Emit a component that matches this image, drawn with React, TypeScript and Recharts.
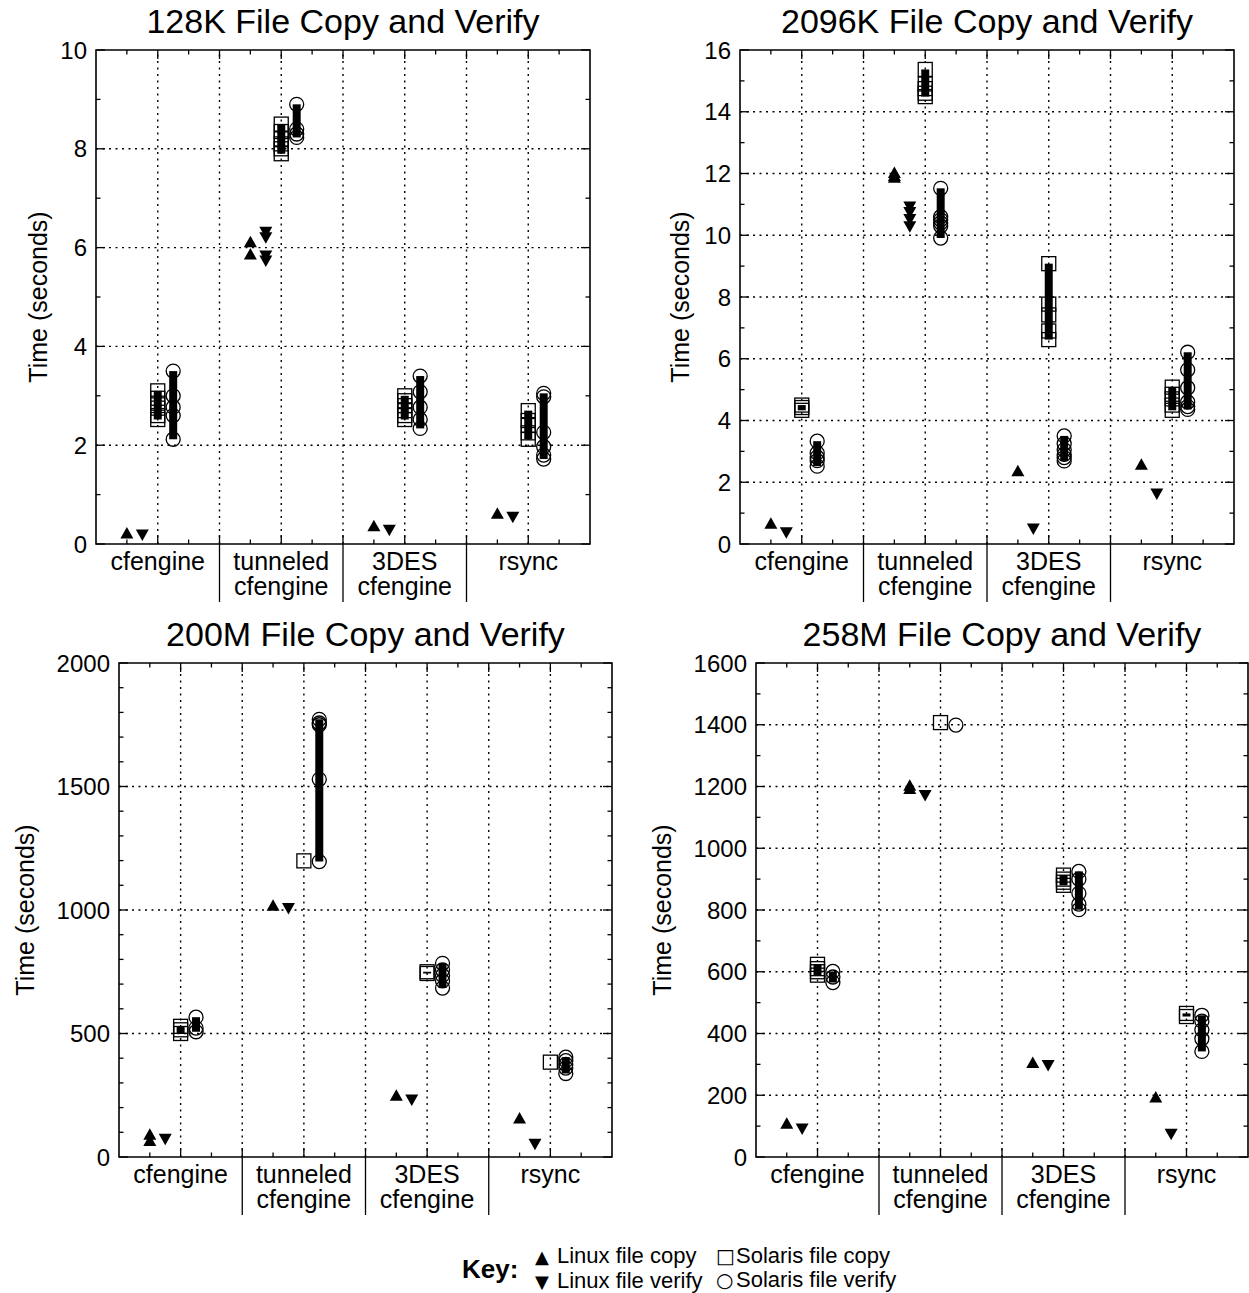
import { ComposedChart, Scatter, XAxis, YAxis, ReferenceLine, ReferenceArea } from "recharts";

const categories = ["cfengine", "tunneled\ncfengine", "3DES\ncfengine", "rsync"];

// every inner list holds the repeated runs of one category (seconds)
const k128LinuxCopy = [[0.2], [6.1, 5.85], [0.35], [0.6]];
const k128LinuxVerify = [[0.2], [6.33, 6.22, 5.85, 5.75], [0.3], [0.56]];
const k128SolarisCopy = [[3.1, 2.95, 2.85, 2.75, 2.6, 2.52], [8.5, 8.35, 8.2, 8.1, 8.0, 7.9], [3.0, 2.9, 2.8, 2.7, 2.6, 2.52], [2.7, 2.5, 2.4, 2.25, 2.12]];
const k128SolarisVerify = [[3.5, 3.0, 2.77, 2.6, 2.12], [8.9, 8.4, 8.3, 8.23], [3.4, 3.08, 2.77, 2.52, 2.34], [3.05, 2.98, 2.26, 1.97, 1.8, 1.72]];

const k2096LinuxCopy = [[0.64], [12.0, 11.9, 11.85], [2.34], [2.55]];
const k2096LinuxVerify = [[0.4], [10.95, 10.77, 10.54, 10.31], [0.52], [1.65]];
const k2096SolarisCopy = [[4.5, 4.42, 4.33], [15.37, 14.9, 14.75, 14.6, 14.49], [9.08, 7.77, 7.42, 6.9, 6.62], [5.08, 4.85, 4.7, 4.5, 4.33]];
const k2096SolarisVerify = [[3.33, 2.95, 2.81, 2.7, 2.52], [11.52, 10.6, 10.5, 10.4, 10.3, 9.91], [3.5, 3.25, 3.05, 2.9, 2.8, 2.69], [6.21, 5.64, 5.06, 4.6, 4.45, 4.36]];

const m200LinuxCopy = [[88, 63], [1015], [246], [154]];
const m200LinuxVerify = [[76], [1010], [235], [56]];
const m200SolarisCopy = [[529, 515, 500], [1199], [750, 743], [384]];
const m200SolarisVerify = [[566, 522, 507], [1772, 1757, 1750, 1529, 1196], [784, 757, 735, 713, 684], [404, 390, 375, 360, 338]];

const m258LinuxCopy = [[106], [1201, 1190], [303], [191]];
const m258LinuxVerify = [[94], [1174], [300], [77]];
const m258SolarisCopy = [[624, 610, 600, 589], [1407], [913, 900, 890, 880], [465, 455]];
const m258SolarisVerify = [[601, 583, 565], [1399], [925, 900, 854, 819, 801], [459, 440, 412, 383, 342]];

const FONT = '"Liberation Sans", Arial, Helvetica, sans-serif';

// x slot of each series inside a category (category i spans 4i..4i+4)
const slots = [1, 1.5, 2, 2.5];

const triUp = (p: any) => (
  <path d={`M${p.cx},${p.cy - 7}L${p.cx + 6.5},${p.cy + 4.5}L${p.cx - 6.5},${p.cy + 4.5}Z`} fill="#000" />
);
const triDown = (p: any) => (
  <path d={`M${p.cx},${p.cy + 7}L${p.cx + 6.5},${p.cy - 4.5}L${p.cx - 6.5},${p.cy - 4.5}Z`} fill="#000" />
);
const square = (p: any) => (
  <rect x={p.cx - 7} y={p.cy - 7} width={14} height={14} fill="none" stroke="#000" strokeWidth={1.3} />
);
const circle = (p: any) => <circle cx={p.cx} cy={p.cy} r={7} fill="none" stroke="#000" strokeWidth={1.3} />;
const shapes = [triUp, triDown, square, circle];

const panels = [
  { title: "128K File Copy and Verify", left: 96, top: 50, right: 590, bottom: 544, max: 10, minor: 1, major: 2, yLabelX: 38,
    series: [k128LinuxCopy, k128LinuxVerify, k128SolarisCopy, k128SolarisVerify] },
  { title: "2096K File Copy and Verify", left: 740, top: 50, right: 1234, bottom: 544, max: 16, minor: 1, major: 2, yLabelX: 680,
    series: [k2096LinuxCopy, k2096LinuxVerify, k2096SolarisCopy, k2096SolarisVerify] },
  { title: "200M File Copy and Verify", left: 119, top: 663, right: 612, bottom: 1157, max: 2000, minor: 100, major: 500, yLabelX: 25,
    series: [m200LinuxCopy, m200LinuxVerify, m200SolarisCopy, m200SolarisVerify] },
  { title: "258M File Copy and Verify", left: 756, top: 663, right: 1248, bottom: 1157, max: 1600, minor: 100, major: 200, yLabelX: 662,
    series: [m258LinuxCopy, m258LinuxVerify, m258SolarisCopy, m258SolarisVerify] },
];

function XTick({ x, y, payload, plotH }: any) {
  const v = payload.value;
  const len = v % 2 === 0 ? 9 : 4.5;
  return (
    <g stroke="#000" strokeWidth={1.3}>
      <line x1={x} y1={y} x2={x} y2={y - len} />
      <line x1={x} y1={y - plotH} x2={x} y2={y - plotH + len} />
      {v % 4 === 0 && <line x1={x} y1={y} x2={x} y2={y + 58} />}
      {v % 4 === 2 && (
        <text x={x} y={y + 26} textAnchor="middle" fontSize={25} fontFamily={FONT} fill="#000" stroke="none">
          {categories[(v - 2) / 4].split("\n").map((t, i) => (
            <tspan key={i} x={x} dy={i === 0 ? 0 : 25}>
              {t}
            </tspan>
          ))}
        </text>
      )}
    </g>
  );
}

function YTick({ x, y, payload, plotW, major }: any) {
  const v = payload.value;
  const isMajor = v % major === 0;
  const ax = x + 9;
  const len = isMajor ? 9 : 4.5;
  return (
    <g stroke="#000" strokeWidth={1.3}>
      <line x1={ax} y1={y} x2={ax + len} y2={y} />
      <line x1={ax + plotW} y1={y} x2={ax + plotW - len} y2={y} />
      {isMajor && (
        <text x={x} y={y} dy="0.36em" textAnchor="end" fontSize={24} fontFamily={FONT} fill="#000" stroke="none">
          {v}
        </text>
      )}
    </g>
  );
}

function Panel({ cfg }: any) {
  const svgLeft = Math.max(0, cfg.left - 110);
  const yw = cfg.left - svgLeft;
  const mTop = 12;
  const xh = 64;
  const plotW = cfg.right - cfg.left;
  const plotH = cfg.bottom - cfg.top;
  const width = yw + plotW + 3;
  const height = mTop + plotH + xh;

  const yTicks: number[] = [];
  for (let v = 0; v <= cfg.max; v += cfg.minor) yTicks.push(v);
  const yGrid = yTicks.filter((v) => v % cfg.major === 0 && v > 0 && v < cfg.max);
  const xTicks = [1, 2, 3, 4, 5, 6, 7, 8, 9, 10, 11, 12, 13, 14, 15];
  const xGrid = xTicks.filter((v) => v % 2 === 0);

  return (
    <>
      <div
        style={{
          position: "absolute",
          left: cfg.left - 20,
          width: plotW + 40,
          top: cfg.top - 46,
          textAlign: "center",
          fontSize: 34,
          lineHeight: "34px",
          fontFamily: FONT,
          whiteSpace: "nowrap",
        }}
      >
        {cfg.title}
      </div>
      <div style={{ position: "absolute", left: svgLeft, top: cfg.top - mTop }}>
        <ComposedChart width={width} height={height} margin={{ top: mTop, right: 3, bottom: 0, left: 0 }}>
          <XAxis
            type="number"
            dataKey="x"
            domain={[0, 16]}
            ticks={xTicks}
            interval={0}
            tickSize={0}
            tickMargin={0}
            tickLine={false}
            axisLine={false}
            height={xh}
            allowDataOverflow
            tick={(p: any) => <XTick {...p} plotH={plotH} />}
          />
          <YAxis
            type="number"
            dataKey="y"
            domain={[0, cfg.max]}
            ticks={yTicks}
            interval={0}
            width={yw}
            tickSize={0}
            tickMargin={9}
            tickLine={false}
            axisLine={false}
            allowDataOverflow
            tick={(p: any) => <YTick {...p} plotW={plotW} major={cfg.major} />}
            label={{
              value: "Time (seconds)",
              angle: -90,
              position: "insideLeft",
              offset: cfg.yLabelX - svgLeft,
              style: { textAnchor: "middle", fontSize: 25, fontFamily: FONT, fill: "#000" },
            }}
          />
          {xGrid.map((v) => (
            <ReferenceLine key={"gx" + v} x={v} stroke="#000" strokeWidth={1.4} strokeDasharray="2 4.5" />
          ))}
          {yGrid.map((v) => (
            <ReferenceLine key={"gy" + v} y={v} stroke="#000" strokeWidth={1.4} strokeDasharray="2 4.5" />
          ))}
          <ReferenceArea x1={0} x2={16} y1={0} y2={cfg.max} fill="none" fillOpacity={0} stroke="#000" strokeWidth={1.6} />
          {cfg.series.map((runs: number[][], s: number) =>
            runs.map((vals, c) => (
              <Scatter
                key={`s${s}c${c}`}
                data={[...vals].sort((a, b) => b - a).map((v) => ({ x: 4 * c + slots[s], y: v }))}
                shape={shapes[s]}
                line={s >= 2 ? { stroke: "#000", strokeWidth: 8 } : false}
                lineType="joint"
                isAnimationActive={false}
              />
            ))
          )}
        </ComposedChart>
      </div>
    </>
  );
}

export default function App() {
  const sym = { fontFamily: '"DejaVu Sans"', display: "inline-block" as const };
  return (
    <div
      style={{
        position: "absolute",
        left: 0,
        top: 0,
        width: 1249,
        height: 1293,
        overflow: "hidden",
        background: "#fff",
        fontFamily: FONT,
        color: "#000",
      }}
    >
      {panels.map((p) => (
        <Panel key={p.title} cfg={p} />
      ))}
      <div style={{ position: "absolute", left: 462, top: 1256, fontSize: 26, lineHeight: "26px", fontWeight: "bold" }}>Key:</div>
      <div style={{ position: "absolute", left: 535, top: 1244, fontSize: 22, lineHeight: "24px", whiteSpace: "nowrap" }}>
        <div>
          <span style={{ ...sym, fontSize: 18, width: 22 }}>▲</span>Linux file copy
        </div>
        <div>
          <span style={{ ...sym, fontSize: 18, width: 22 }}>▼</span>Linux file verify
        </div>
      </div>
      <div style={{ position: "absolute", left: 716, top: 1244, fontSize: 22, lineHeight: "24px", whiteSpace: "nowrap" }}>
        <div>
          <span style={{ ...sym, fontSize: 20, width: 20 }}>□</span>Solaris file copy
        </div>
        <div>
          <span style={{ ...sym, fontSize: 20, width: 20 }}>○</span>Solaris file verify
        </div>
      </div>
    </div>
  );
}
